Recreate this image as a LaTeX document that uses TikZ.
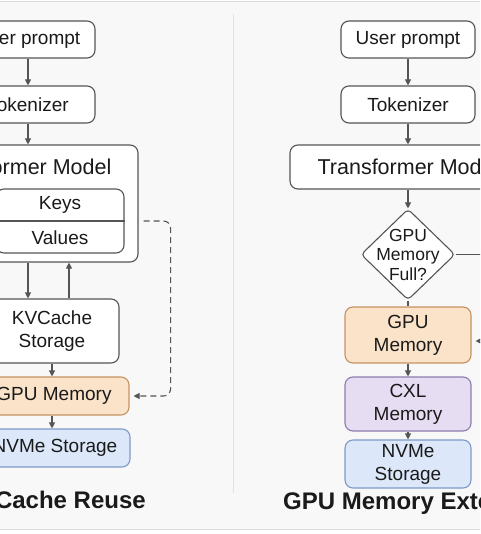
\documentclass[tikz,border=0pt]{standalone}
\usepackage{fontspec}
\setmainfont{Liberation Sans}
\usetikzlibrary{arrows.meta,shapes.geometric}
\definecolor{page}{HTML}{F8F8F8}
\definecolor{frame}{HTML}{DCDCDC}
\definecolor{divider}{HTML}{E2E2E2}
\definecolor{ink}{HTML}{1A1A1A}
\definecolor{edge}{HTML}{555555}
\definecolor{orangefill}{HTML}{FBE3C9}
\definecolor{orangeedge}{HTML}{C69262}
\definecolor{purplefill}{HTML}{E7DDF3}
\definecolor{purpleedge}{HTML}{8F7BAF}
\definecolor{bluefill}{HTML}{DCE8FA}
\definecolor{blueedge}{HTML}{7D9BC8}
\tikzset{
  box/.style={draw=edge, fill=white, line width=1.1pt, rounded corners=8pt, align=center, text=ink, font=\fontsize{19}{23}\selectfont, inner sep=0pt},
  wbox/.style={box, minimum width=134pt, minimum height=37pt},
  gpubox/.style={box, fill=orangefill, draw=orangeedge},
  cxlbox/.style={box, fill=purplefill, draw=purpleedge},
  nvbox/.style={box, fill=bluefill, draw=blueedge},
  diam/.style={diamond, draw=edge, fill=white, line width=1.1pt, rounded corners=4pt, minimum width=94pt, minimum height=91pt, inner sep=0pt},
  arr/.style={draw=edge, line width=1.1pt, -{Triangle[length=6pt,width=6pt]}},
  link/.style={draw=edge, line width=1.1pt},
  dasharr/.style={draw=edge, line width=1.1pt, dash pattern=on 6pt off 4pt, rounded corners=7pt, -{Triangle[length=6pt,width=6pt]}},
  lab/.style={text=ink, font=\fontsize{19}{23}\selectfont},
  biglab/.style={text=ink, font=\fontsize{21.5}{24}\selectfont},
  title/.style={text=ink, inner sep=0pt, font=\fontsize{24}{26}\selectfont\bfseries},
  dtext/.style={text=ink, align=center, font=\fontsize{17.5}{19.5}\selectfont},
}

\begin{document}
\begin{tikzpicture}[x=1pt,y=-1pt]
  \useasboundingbox (0,0) rectangle (480,534);
  \clip (0,0) rectangle (480,534);
  \fill[white] (0,0) rectangle (480,534);
  \draw[draw=frame, fill=page, line width=1pt] (-10,2) rectangle (490,529);
  \draw[draw=divider, line width=1pt] (233,14) -- (233,493);

  % left panel
  \node[wbox] (upL) at (28,39.5) {User prompt};
  \node[wbox] (tokL) at (28,104.5) {Tokenizer};
  \node[box, minimum width=236pt, minimum height=117pt] (tfL) at (20,203.5) {};
  \node[biglab] (tfLtxt) at (21,167) {Transformer Model};
  \node[box, minimum width=128pt, minimum height=64pt] (kvL) at (60,221) {};
  \draw[link] (kvL.west) -- (kvL.east);
  \node[lab] (keysL) at (60,205) {Keys};
  \node[lab] (valsL) at (60,238) {Values};
  \node[box, minimum width=134pt, minimum height=64pt] (kcL) at (52,331) {KVCache\\Storage};
  \node[gpubox, minimum width=150pt, minimum height=38pt] (gpuL) at (54,396) {GPU Memory};
  \node[nvbox, minimum width=150pt, minimum height=38pt] (nvL) at (55,448) {NVMe Storage};
  \node[title, anchor=east] (ttlL) at (146,500) {KVCache Reuse};

  \draw[arr] (upL) -- (tokL);
  \draw[arr] (tokL.south) -- (tokL.south |- tfL.north);
  \draw[arr] ([xshift=-24pt]kcL.north |- tfL.south) -- ([xshift=-24pt]kcL.north);
  \draw[arr] ([xshift=17pt]kcL.north) -- ([xshift=17pt]kcL.north |- tfL.south);
  \draw[arr] (kcL.south) -- (kcL.south |- gpuL.north);
  \draw[arr] (kcL.south |- gpuL.south) -- (kcL.south |- nvL.north);
  \draw[dasharr, shorten <=5pt, shorten >=4pt] (tfL.east |- kvL.east) -- ++(32,0) |- (gpuL.east);

  % right panel
  \node[wbox] (upR) at (408,39.5) {User prompt};
  \node[wbox] (tokR) at (408,104.5) {Tokenizer};
  \node[box, minimum width=236pt, minimum height=44pt, font=\fontsize{21.5}{24}\selectfont] (tfR) at (408,167) {Transformer Model};
  \node[diam, label={[dtext]center:{GPU\\Memory\\Full?}}] (dR) at (408,254.5) {};
  \node[gpubox, minimum width=126pt, minimum height=56pt] (gpuR) at (408,335) {GPU\\Memory};
  \node[cxlbox, minimum width=126pt, minimum height=54pt] (cxlR) at (408,404) {CXL\\Memory};
  \node[nvbox, minimum width=126pt, minimum height=48pt] (nvR) at (408,464) {NVMe\\Storage};
  \node[title, anchor=west] (ttlR) at (283,503) {GPU Memory Extension};
  \coordinate (yesR) at (500,254.5);
  \coordinate (backR) at (500,341);

  \foreach \a/\b in {upR/tokR, tokR/tfR, tfR/dR, gpuR/cxlR, cxlR/nvR}
    \draw[arr] (\a) -- (\b);
  \draw[link] (dR) -- (gpuR);
  \draw[link] (dR.east) -- (yesR);
  \draw[arr, shorten >=4pt] (backR) -- (gpuR.east |- backR);
\end{tikzpicture}
\end{document}
